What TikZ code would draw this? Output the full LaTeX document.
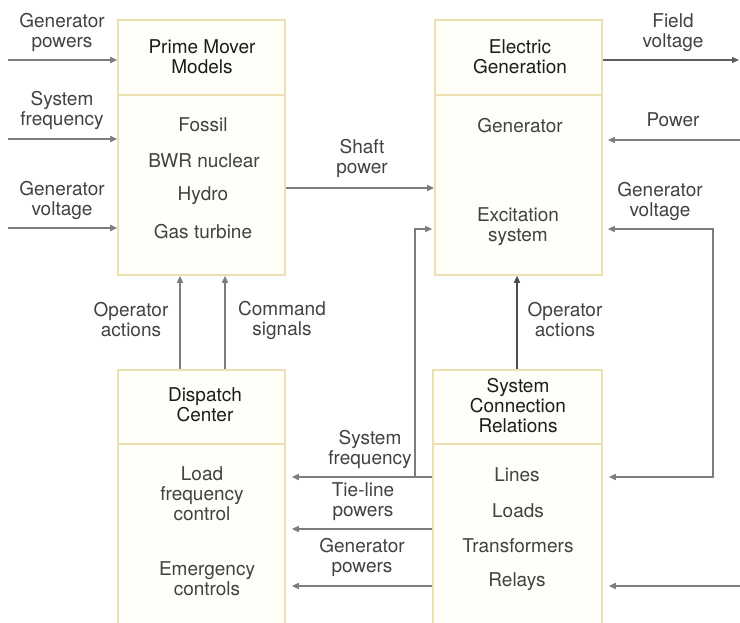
\documentclass[tikz,border=0pt]{standalone}
\usepackage{fontspec}
\setmainfont{TeX Gyre Heros}
\usetikzlibrary{arrows.meta}
\definecolor{boxline}{RGB}{236,224,176}
\definecolor{boxfill}{RGB}{255,254,248}
\definecolor{wire}{RGB}{125,125,125}
\definecolor{txt}{RGB}{66,66,66}
\definecolor{ttl}{RGB}{28,28,28}
\tikzset{
  blk/.style={draw=boxline, fill=boxfill, line width=1.6pt, inner sep=0pt},
  lbl/.style={text=txt, align=center, inner sep=1pt, font=\fontsize{19}{20}\selectfont},
  ttlbl/.style={lbl, text=ttl},
  divider/.style={draw=boxline, line width=1.6pt},
  arr/.style={draw=wire, line width=1.5pt, -{Triangle[length=7pt,width=6pt]}},
  arrb/.style={draw=wire, line width=1.5pt, {Triangle[length=7pt,width=6pt]}-{Triangle[length=7pt,width=6pt]}}
}
\begin{document}
\begin{tikzpicture}[x=1pt,y=-1pt]
\useasboundingbox (0,0) rectangle (740,623);
\clip (0,0) rectangle (740,623);
\fill[white] (0,0) rectangle (740,623);

% boxes
\node[blk, minimum width=167pt, minimum height=255pt] (pm) at (201.5,147.5) {};
\node[blk, minimum width=167pt, minimum height=255pt] (eg) at (518.5,147.5) {};
\node[blk, minimum width=167pt, minimum height=258pt] (dc) at (201.5,499) {};
\node[blk, minimum width=169pt, minimum height=258pt] (scr) at (517.5,499) {};

% dividers
\coordinate (d1) at (0,95);
\coordinate (d2) at (0,444);
\draw[divider] (pm.west |- d1) -- (pm.east |- d1);
\draw[divider] (eg.west |- d1) -- (eg.east |- d1);
\draw[divider] (dc.west |- d2) -- (dc.east |- d2);
\draw[divider] (scr.west |- d2) -- (scr.east |- d2);

% box texts
\node[ttlbl] (pmt) at (202,57) {Prime Mover\\Models};
\node[lbl] (pm1) at (203,125) {Fossil};
\node[lbl] (pm2) at (204,161) {BWR nuclear};
\node[lbl] (pm3) at (203,196) {Hydro};
\node[lbl] (pm4) at (203,232) {Gas turbine};

\node[ttlbl] (egt) at (520,57) {Electric\\Generation};
\node[lbl] (eg1) at (520,126) {Generator};
\node[lbl] (eg2) at (518,227) {Excitation\\system};

\node[ttlbl] (dct) at (205,405) {Dispatch\\Center};
\node[lbl] (dc1) at (202,494) {Load\\frequency\\control};
\node[lbl] (dc2) at (207,579) {Emergency\\controls};

\node[ttlbl] (scrt) at (518,406) {System\\Connection\\Relations};
\node[lbl] (scr1) at (517,475) {Lines};
\node[lbl] (scr2) at (518,511) {Loads};
\node[lbl] (scr3) at (518,546) {Transformers};
\node[lbl] (scr4) at (517,582) {Relays};

% outer labels
\node[lbl] (l1) at (62,32) {Generator\\powers};
\node[lbl] (l2) at (62,110) {System\\frequency};
\node[lbl] (l3) at (62,200) {Generator\\voltage};
\node[lbl] (l4) at (362,158) {Shaft\\power};
\node[lbl] (l5) at (673,33) {Field\\voltage};
\node[lbl] (l6) at (673,120) {Power};
\node[lbl] (l7) at (660,201) {Generator\\voltage};
\node[lbl] (l8) at (131,320) {Operator\\actions};
\node[lbl] (l9) at (282,320) {Command\\signals};
\node[lbl] (l10) at (565,320) {Operator\\actions};
\node[lbl] (l11) at (370,449) {System\\frequency};
\node[lbl] (l12) at (363,502) {Tie-line\\powers};
\node[lbl] (l13) at (362,557) {Generator\\powers};

% left inputs
\coordinate (in1) at (8,60);
\coordinate (in2) at (8,139);
\coordinate (in3) at (8,228);
\draw[arr] (in1) -- (in1 -| pm.west);
\draw[arr] (in2) -- (in2 -| pm.west);
\draw[arr, line width=2pt] (in3) -- (in3 -| pm.west);

% shaft power
\coordinate (sp) at (0,188);
\draw[arr] (pm.east |- sp) -- (eg.west |- sp);

% dispatch -> prime mover
\coordinate (oa) at (180,0);
\coordinate (cs) at (225,0);
\draw[arr] (dc.north -| oa) -- (pm.south -| oa);
\draw[arr] (dc.north -| cs) -- (pm.south -| cs);

% scr -> electric generation
\coordinate (oa2) at (517,0);
\draw[arr, draw=wire!60!black] (scr.north -| oa2) -- (eg.south -| oa2);

% right side
\coordinate (fv) at (0,60);
\coordinate (fve) at (739,60);
\draw[arr, draw=wire!75!black] (eg.east |- fv) -- (fve);
\coordinate (pw) at (740,140);
\draw[arr, shorten >=5pt] (pw) -- (pw -| eg.east);
\coordinate (gvc) at (713,229);
\coordinate (lnc) at (713,477);
\draw[arrb, shorten <=5pt, shorten >=6pt] (eg.east |- gvc) -- (gvc) -- (lnc) -- (scr.east |- lnc);
\coordinate (rl) at (740,586);
\draw[arr, shorten >=6pt] (rl) -- (rl -| scr.east);

% scr -> dispatch
\coordinate (sfj) at (415,477);
\coordinate (tl) at (0,529);
\coordinate (gp) at (0,586);
\draw[arr, shorten >=6pt] (scr.west |- sfj) -- (dc.east |- sfj);
\draw[arr, shorten >=6pt] (scr.west |- tl) -- (dc.east |- tl);
\draw[arr, shorten >=6pt] (scr.west |- gp) -- (dc.east |- gp);
\coordinate (exc) at (0,229);
\draw[arr] (sfj) -- (sfj |- exc) -- ([xshift=-2pt]eg.west |- exc);
\end{tikzpicture}
\end{document}
